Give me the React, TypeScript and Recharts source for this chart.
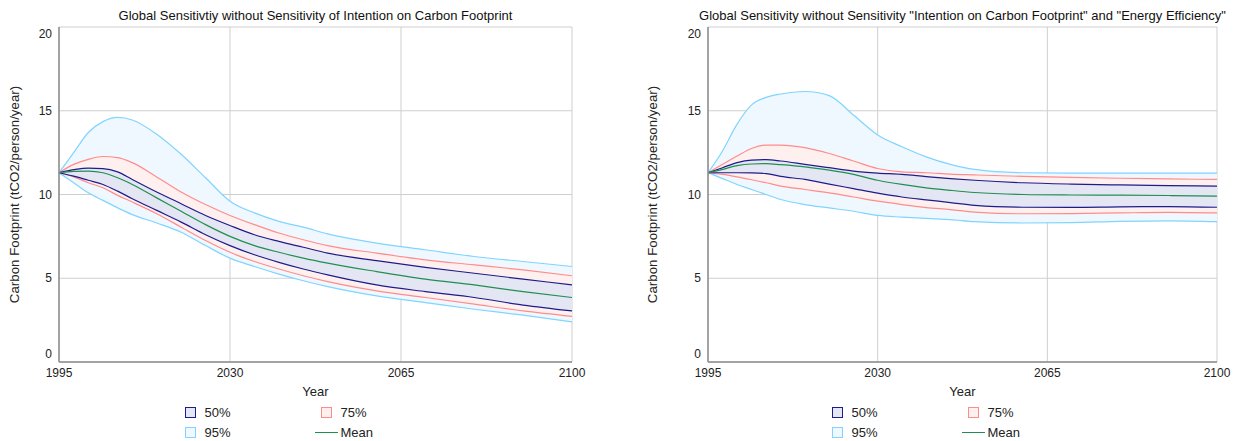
import React from 'react';
import { ComposedChart, Area, Line, XAxis, YAxis, CartesianGrid, Legend } from 'recharts';

const years = [1995, 1998, 2001, 2004, 2007, 2010, 2015, 2020, 2025, 2030, 2035, 2040, 2045, 2050, 2060, 2070, 2080, 2090, 2100];
const xTicks = [1995, 2030, 2065, 2100];
const yTicks = [0, 5, 10, 15, 20];

// left panel: without sensitivity of intention
const leftHi95 = [11.3, 12.5, 13.7, 14.35, 14.6, 14.45, 13.6, 12.4, 11.0, 9.6, 8.9, 8.4, 8.05, 7.65, 7.1, 6.7, 6.3, 6.0, 5.7];
const leftHi75 = [11.3, 11.8, 12.1, 12.27, 12.2, 11.9, 11.05, 10.15, 9.4, 8.75, 8.2, 7.7, 7.3, 6.95, 6.5, 6.1, 5.8, 5.5, 5.15];
const leftHi50 = [11.3, 11.48, 11.58, 11.55, 11.35, 10.9, 10.15, 9.45, 8.75, 8.15, 7.6, 7.2, 6.85, 6.5, 6.05, 5.65, 5.3, 4.95, 4.6];
const leftMean = [11.3, 11.38, 11.4, 11.3, 11.0, 10.6, 9.8, 9.0, 8.2, 7.5, 6.95, 6.55, 6.2, 5.9, 5.4, 4.95, 4.6, 4.2, 3.85];
const leftLo50 = [11.3, 11.1, 10.85, 10.6, 10.2, 9.75, 9.05, 8.35, 7.6, 6.95, 6.4, 5.95, 5.55, 5.2, 4.6, 4.2, 3.85, 3.4, 3.05];
const leftLo75 = [11.3, 11.05, 10.7, 10.4, 9.95, 9.55, 8.85, 8.05, 7.25, 6.55, 6.0, 5.55, 5.15, 4.8, 4.25, 3.85, 3.45, 3.05, 2.72];
const leftLo95 = [11.3, 10.7, 10.1, 9.65, 9.2, 8.8, 8.3, 7.75, 6.95, 6.2, 5.7, 5.25, 4.85, 4.5, 3.95, 3.55, 3.15, 2.8, 2.4];

// right panel: without intention and energy efficiency
const rightHi95 = [11.3, 12.6, 14.2, 15.35, 15.8, 16.0, 16.15, 15.9, 14.75, 13.55, 12.85, 12.25, 11.8, 11.5, 11.3, 11.28, 11.28, 11.28, 11.28];
const rightHi75 = [11.3, 11.8, 12.3, 12.75, 12.95, 12.95, 12.8, 12.45, 12.0, 11.55, 11.35, 11.3, 11.22, 11.17, 11.08, 11.02, 10.97, 10.93, 10.9];
const rightHi50 = [11.3, 11.6, 11.9, 12.05, 12.08, 12.0, 11.8, 11.6, 11.4, 11.28, 11.2, 11.07, 10.95, 10.85, 10.7, 10.62, 10.57, 10.53, 10.5];
const rightMean = [11.3, 11.5, 11.72, 11.82, 11.84, 11.78, 11.65, 11.45, 11.2, 10.85, 10.6, 10.4, 10.25, 10.12, 10.0, 9.97, 9.96, 9.94, 9.9];
const rightLo50 = [11.3, 11.3, 11.3, 11.29, 11.25, 11.08, 10.9, 10.62, 10.35, 10.08, 9.85, 9.68, 9.52, 9.35, 9.24, 9.23, 9.26, 9.28, 9.24];
const rightLo75 = [11.3, 11.2, 11.05, 10.88, 10.7, 10.5, 10.3, 10.1, 9.85, 9.6, 9.4, 9.22, 9.1, 8.95, 8.85, 8.86, 8.9, 8.93, 8.9];
const rightLo95 = [11.3, 10.95, 10.6, 10.3, 10.0, 9.7, 9.4, 9.2, 9.0, 8.75, 8.65, 8.57, 8.5, 8.38, 8.3, 8.32, 8.4, 8.43, 8.38];

const leftTitle = 'Global Sensitivtiy without Sensitivity of Intention on Carbon Footprint';
const rightTitle = 'Global Sensitivity without Sensitivity "Intention on Carbon Footprint" and "Energy Efficiency"';

const C50 = '#1c1c8c';
const C75 = '#ff8c8c';
const C95 = '#80d4ff';
const CMEAN = '#1f8f50';
const FONT = '"Liberation Sans", Arial, Helvetica, sans-serif';

const PLOT_TOP = 27;
const PLOT_BOTTOM = 362;
const H = 441;

const buildRows = (lo95: number[], lo75: number[], lo50: number[], mean: number[], hi50: number[], hi75: number[], hi95: number[]) =>
  years.map((year, i) => ({
    year,
    p95: [lo95[i], hi95[i]],
    p75: [lo75[i], hi75[i]],
    p50: [lo50[i], hi50[i]],
    mean: mean[i],
  }));

const leftRows = buildRows(leftLo95, leftLo75, leftLo50, leftMean, leftHi50, leftHi75, leftHi95);
const rightRows = buildRows(rightLo95, rightLo75, rightLo50, rightMean, rightHi50, rightHi75, rightHi95);

const YTick = (props: any) => {
  const { x, y, payload } = props;
  // end labels are pulled inside the plot box like in the original
  const shift = payload.value === 20 ? 7 : payload.value === 0 ? -8 : 0;
  return (
    <text x={x} y={y + shift} dy="0.35em" textAnchor="end" fontSize={12} fill="#222">
      {payload.value}
    </text>
  );
};

const Swatch = ({ stroke, fill }: { stroke: string; fill: string }) => (
  <span style={{ display: 'inline-block', boxSizing: 'border-box', width: 11, height: 11, border: `1.5px solid ${stroke}`, background: fill }} />
);

const LegendBox = () => {
  const item = (left: number, top: number, icon: React.ReactNode, text: string) => (
    <div style={{ position: 'absolute', left, top, height: 18, display: 'flex', alignItems: 'center' }}>
      {icon}
      <span style={{ marginLeft: 9, fontSize: 13, color: '#222' }}>{text}</span>
    </div>
  );
  return (
    <div style={{ position: 'relative', width: 220, height: 40, fontFamily: FONT }}>
      {item(0, 0, <Swatch stroke={C50} fill="#e4e6f4" />, '50%')}
      {item(136, 0, <Swatch stroke={C75} fill="#fff0f0" />, '75%')}
      {item(0, 20, <Swatch stroke={C95} fill="#eff8ff" />, '95%')}
      <div style={{ position: 'absolute', left: 130, top: 20, height: 18, display: 'flex', alignItems: 'center' }}>
        <span style={{ display: 'inline-block', width: 23, height: 0, borderTop: `1.5px solid ${CMEAN}` }} />
        <span style={{ marginLeft: 3, fontSize: 13, color: '#222' }}>Mean</span>
      </div>
    </div>
  );
};

interface PanelProps {
  rows: ReturnType<typeof buildRows>;
  title: string;
  left: number;
  width: number;
  plotLeft: number;
  plotRight: number;
  labelX: number;
}

const Panel = ({ rows, title, left, width, plotLeft, plotRight, labelX }: PanelProps) => {
  const yAxisWidth = plotLeft - left;
  const marginRight = left + width - plotRight;
  const plotCenter = (plotLeft + plotRight) / 2 - left;
  const midY = (PLOT_TOP + PLOT_BOTTOM) / 2;
  const lx = labelX - left;
  return (
    <div style={{ position: 'absolute', left, top: 0, width, height: H, fontFamily: FONT }}>
      <div
        style={{
          position: 'absolute',
          left: plotLeft - left - 100,
          width: plotRight - plotLeft + 200,
          top: 8,
          fontSize: 13,
          lineHeight: '15px',
          textAlign: 'center',
          color: '#111',
          whiteSpace: 'nowrap',
        }}
      >
        {title}
      </div>
      <ComposedChart
        width={width}
        height={H}
        data={rows}
        margin={{ top: PLOT_TOP, right: marginRight, left: 0, bottom: H - PLOT_BOTTOM - 30 }}
      >
        <CartesianGrid stroke="#cfcfcf" />
        <XAxis
          dataKey="year"
          type="number"
          domain={[1995, 2100]}
          ticks={xTicks}
          height={30}
          tickSize={0}
          tickMargin={6}
          tick={{ fontSize: 12, fill: '#222' }}
          axisLine={{ stroke: '#8c8c8c', strokeWidth: 1.5 }}
          label={() => (
            <text x={plotCenter} y={391} textAnchor="middle" dominantBaseline="central" fontSize={13} fill="#222">
              Year
            </text>
          )}
        />
        <YAxis
          type="number"
          domain={[0, 20]}
          ticks={yTicks}
          width={yAxisWidth}
          tickSize={0}
          tickMargin={7}
          tick={<YTick />}
          axisLine={{ stroke: '#8c8c8c', strokeWidth: 1.5 }}
          label={() => (
            <text
              x={lx}
              y={midY}
              transform={`rotate(-90 ${lx} ${midY})`}
              textAnchor="middle"
              dominantBaseline="central"
              fontSize={13.3}
              fill="#222"
            >
              Carbon Footprint (tCO2/person/year)
            </text>
          )}
        />
        <Area type="monotone" dataKey="p95" stroke={C95} strokeWidth={1.2} fill="#eff8ff" fillOpacity={1} isAnimationActive={false} />
        <Area type="monotone" dataKey="p75" stroke={C75} strokeWidth={1.2} fill="#fff0f0" fillOpacity={1} isAnimationActive={false} />
        <Area type="monotone" dataKey="p50" stroke={C50} strokeWidth={1.2} fill="#e4e6f4" fillOpacity={1} isAnimationActive={false} />
        <Line type="monotone" dataKey="mean" stroke={CMEAN} strokeWidth={1.2} dot={false} isAnimationActive={false} />
        <Legend
          layout="horizontal"
          verticalAlign="middle"
          wrapperStyle={{ left: plotCenter - 131, top: 403, width: 220, height: 40 }}
          content={() => <LegendBox />}
        />
      </ComposedChart>
    </div>
  );
};

export default function App() {
  return (
    <div style={{ position: 'absolute', left: 0, top: 0, width: 1235, height: H, background: '#fff' }}>
      <Panel rows={leftRows} title={leftTitle} left={0} width={617} plotLeft={59} plotRight={572} labelX={14} />
      <Panel rows={rightRows} title={rightTitle} left={640} width={595} plotLeft={708} plotRight={1217} labelX={652} />
    </div>
  );
}
